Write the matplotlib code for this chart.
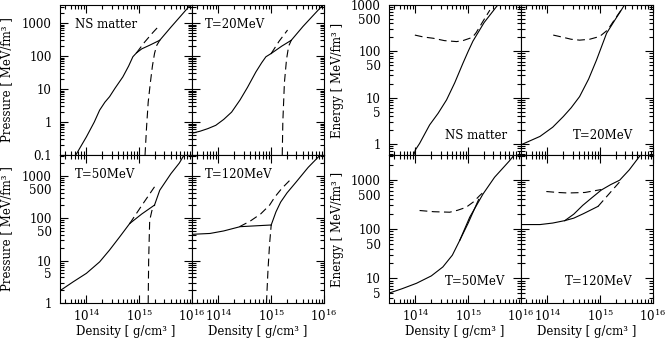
import numpy as np
import matplotlib
matplotlib.use("Agg")
import matplotlib.pyplot as plt
from matplotlib.ticker import LogLocator, FuncFormatter, NullFormatter

plt.rcParams['font.family'] = ['DejaVu Serif']
plt.rcParams['mathtext.fontset'] = 'dejavuserif'
plt.rcParams['font.size'] = 8.5

# ---- data (density in g/cm^3, pressure / energy in MeV/fm^3) ----
# pressure, NS matter
ns_p_had_rho = [6.3e13, 1.0e14, 1.41e14, 1.78e14, 2.24e14, 2.75e14, 3.47e14, 4.9e14, 6.31e14, 7.59e14, 8.91e14]
ns_p_had = [0.1, 0.355, 1.0, 2.29, 4.0, 5.89, 10.5, 23.4, 50, 95.5, 126]
ns_p_mix_rho = [8.91e14, 1.12e15, 1.58e15, 2.45e15]
ns_p_mix = [126, 166, 214, 302]
ns_p_qrk_rho = [2.45e15, 4.0e15, 6.3e15, 9.3e15]
ns_p_qrk = [302, 759, 1740, 3550]
ns_p_hdash_rho = [8.91e14, 1.26e15, 1.78e15, 2.45e15]
ns_p_hdash = [126, 263, 501, 871]
ns_p_qdash_rho = [1.29e15, 1.38e15, 1.48e15, 1.62e15, 1.78e15, 1.95e15, 2.14e15, 2.45e15]
ns_p_qdash = [0.1, 0.72, 3.98, 14.8, 50, 120, 209, 302]

# pressure, T=20MeV
t20_p_had_rho = [3.16e13, 4.47e13, 6.31e13, 8.91e13, 1.26e14, 1.78e14, 2.57e14, 3.55e14, 5.13e14, 6.61e14, 7.94e14, 1.0e15]
t20_p_had = [0.457, 0.525, 0.631, 0.794, 1.2, 2.0, 4.68, 11.2, 33.1, 63.1, 95.5, 120]
t20_p_mix_rho = [1.0e15, 1.58e15, 2.4e15]
t20_p_mix = [120, 200, 302]
t20_p_qrk_rho = [2.4e15, 4.0e15, 6.3e15, 9.55e15]
t20_p_qrk = [302, 794, 1740, 3550]
t20_p_hdash_rho = [1.0e15, 1.41e15, 2.04e15]
t20_p_hdash = [120, 282, 617]
t20_p_qdash_rho = [1.62e15, 1.66e15, 1.78e15, 1.95e15, 2.14e15, 2.4e15]
t20_p_qdash = [0.1, 1.0, 15.8, 79.4, 200, 302]

# pressure, T=50MeV
t50_p_had_rho = [3.16e13, 5.62e13, 1.0e14, 1.78e14, 2.75e14, 4.27e14, 6.61e14]
t50_p_had = [1.95, 3.16, 5.01, 9.33, 17.8, 36.3, 75]
t50_p_mix_rho = [6.61e14, 1.12e15, 1.95e15]
t50_p_mix = [75, 126, 204]
t50_p_qrk_rho = [1.95e15, 2.45e15, 3.98e15, 5.75e15, 7.08e15]
t50_p_qrk = [204, 457, 1120, 2000, 3100]
t50_p_hdash_rho = [6.61e14, 1.12e15, 1.95e15]
t50_p_hdash = [75, 200, 550]
t50_p_qdash_rho = [1.48e15, 1.51e15, 1.58e15, 1.74e15, 1.95e15]
t50_p_qdash = [1.0, 10, 89, 151, 204]

# pressure, T=120MeV
t120_p_had_rho = [3.16e13, 6.92e13, 1.26e14, 2.57e14, 5.01e14, 1.0e15]
t120_p_had = [41.7, 43.7, 50.1, 63.1, 66.1, 69.2]
t120_p_qrk_rho = [1.0e15, 1.23e15, 1.51e15, 2.0e15, 2.95e15, 5.01e15, 8.32e15]
t120_p_qrk = [69.2, 141, 240, 398, 708, 1580, 3020]
t120_p_hdash_rho = [2.51e14, 3.98e14, 6.31e14, 9.33e14, 1.17e15, 1.58e15, 2.4e15]
t120_p_hdash = [63.1, 85.1, 126, 204, 316, 501, 851]
t120_p_qdash_rho = [8.13e14, 8.71e14, 9.33e14, 1.0e15]
t120_p_qdash = [1.0, 6.31, 25.1, 69.2]

# energy, NS matter
ns_e_rho = [9.33e13, 1.0e14, 1.2e14, 1.86e14, 2.69e14, 3.89e14, 5.56e14, 7.94e14, 1.0e15, 1.23e15, 2.0e15, 3.63e15]
ns_e = [0.575, 0.741, 1.02, 2.57, 4.57, 8.91, 20.9, 55, 100, 166, 417, 1000]
ns_e_dash_rho = [9.77e13, 1.41e14, 2.19e14, 3.55e14, 6.03e14, 7.94e14, 1.0e15, 1.2e15, 1.41e15, 1.91e15, 2.57e15]
ns_e_dash = [224, 204, 191, 170, 162, 170, 186, 200, 251, 447, 776]

# energy, T=20MeV
t20_e_rho = [3.16e13, 7.24e13, 1.26e14, 2.0e14, 2.82e14, 4.07e14, 6.03e14, 8.51e14, 1.32e15, 1.91e15, 2.51e15, 2.88e15]
t20_e = [0.955, 1.45, 2.29, 3.89, 6.03, 10.5, 25.1, 64.6, 245, 479, 776, 1000]
t20_e_dash_rho = [1.29e14, 2.0e14, 2.82e14, 4.07e14, 6.31e14, 9.77e14, 1.38e15, 1.91e15, 2.63e15]
t20_e_dash = [224, 200, 182, 174, 182, 209, 288, 501, 851]

# energy, T=50MeV
t50_e_rho = [3.16e13, 5.62e13, 1.05e14, 2.0e14, 3.31e14, 5.01e14, 6.92e14, 1.07e15, 1.91e15, 3.16e15, 6.03e15, 7.41e15]
t50_e = [5.01, 6.17, 7.94, 11.2, 17.0, 29.5, 58.9, 174, 513, 1120, 2400, 3160]
t50_e_mix_rho = [6.92e14, 1.0e15, 1.58e15]
t50_e_mix = [58.9, 132, 398]
t50_e_dash_rho = [1.2e14, 2.24e14, 4.47e14, 6.31e14, 9.12e14, 1.26e15, 1.66e15, 2.0e15]
t50_e_dash = [237, 224, 219, 240, 275, 355, 479, 575]

# energy, T=120MeV
t120_e_rho = [3.16e13, 7.24e13, 1.26e14, 2.14e14]
t120_e = [123, 123, 132, 148]
t120_e_up_rho = [2.14e14, 3.16e14, 4.68e14, 7.08e14, 1.05e15, 1.58e15, 2.34e15, 3.55e15, 5.62e15]
t120_e_up = [148, 200, 302, 437, 617, 794, 977, 1580, 3020]
t120_e_low_rho = [2.14e14, 3.16e14, 4.79e14, 9.12e14]
t120_e_low = [148, 166, 204, 288]
t120_e_lowdash_rho = [9.12e14, 1.58e15, 2.45e15]
t120_e_lowdash = [288, 562, 955]
t120_e_dash_rho = [9.55e13, 1.58e14, 2.45e14, 5.13e14, 1.05e15]
t120_e_dash = [575, 550, 537, 550, 631]

# ---- figure ----
W, H = 667, 342
fig = plt.figure(figsize=(W / 100, H / 100), dpi=100)


def make_ax(left, top, w, h):
    return fig.add_axes([left / W, 1 - (top + h) / H, w / W, h / H])


def y_major_fmt(v, pos):
    return f'{v:g}'


def y_minor_fmt(v, pos):
    d = 10 ** np.floor(np.log10(v) + 1e-9)
    return f'{v:g}' if abs(v / d - 5) < 0.01 else ''


def style(ax, ylim, xlabels, ylabels, minor_labels):
    ax.set_xscale('log')
    ax.set_yscale('log')
    ax.set_xlim(10 ** 13.5, 1e16)
    ax.set_ylim(*ylim)
    ax.xaxis.set_major_locator(LogLocator(base=10, numticks=100))
    ax.xaxis.set_minor_locator(LogLocator(base=10, subs=np.arange(2, 10), numticks=100))
    ax.yaxis.set_major_locator(LogLocator(base=10, numticks=100))
    ax.yaxis.set_minor_locator(LogLocator(base=10, subs=np.arange(2, 10), numticks=100))
    if xlabels:
        ax.xaxis.set_major_formatter(FuncFormatter(lambda v, p: r'$10^{%d}$' % round(np.log10(v))))
    else:
        ax.xaxis.set_major_formatter(NullFormatter())
    ax.xaxis.set_minor_formatter(NullFormatter())
    if ylabels:
        ax.yaxis.set_major_formatter(FuncFormatter(y_major_fmt))
        ax.yaxis.set_minor_formatter(FuncFormatter(y_minor_fmt) if minor_labels else NullFormatter())
    else:
        ax.yaxis.set_major_formatter(NullFormatter())
        ax.yaxis.set_minor_formatter(NullFormatter())
    ax.tick_params(which='both', direction='in', top=True, right=True, width=0.8, colors='black')
    ax.tick_params(which='major', length=5.5)
    ax.tick_params(which='minor', length=3)
    ax.tick_params(axis='x', which='both', pad=4)
    ax.tick_params(axis='y', which='both', pad=6)
    for s in ax.spines.values():
        s.set_linewidth(0.8)


LW = 0.8
DASH = (0, (7, 4))


def solid(ax, x, y):
    ax.plot(x, y, color='black', lw=LW)


def dashed(ax, x, y):
    ax.plot(x, y, color='black', lw=LW, linestyle=DASH)


lefts = [60, 192, 389, 521]
pw, ph_top, ph_bot = 132, 150, 148

ylim_p_top = (0.1, 10 ** 3.55)
ylim_p_bot = (1, 3100)
ylim_e_top = (0.575, 1000)
ylim_e_bot = (10 ** 0.5, 10 ** 3.5)

# pressure NS matter
ax = make_ax(lefts[0], 5, pw, ph_top)
style(ax, ylim_p_top, False, True, False)
solid(ax, ns_p_had_rho, ns_p_had)
solid(ax, ns_p_mix_rho, ns_p_mix)
solid(ax, ns_p_qrk_rho, ns_p_qrk)
dashed(ax, ns_p_hdash_rho, ns_p_hdash)
dashed(ax, ns_p_qdash_rho, ns_p_qdash)
ax.text(0.114, 0.867, 'NS matter', transform=ax.transAxes, va='center', ha='left')

# pressure T=20
ax = make_ax(lefts[1], 5, pw, ph_top)
style(ax, ylim_p_top, False, False, False)
solid(ax, t20_p_had_rho, t20_p_had)
solid(ax, t20_p_mix_rho, t20_p_mix)
solid(ax, t20_p_qrk_rho, t20_p_qrk)
dashed(ax, t20_p_hdash_rho, t20_p_hdash)
dashed(ax, t20_p_qdash_rho, t20_p_qdash)
ax.text(0.10, 0.867, 'T=20MeV', transform=ax.transAxes, va='center', ha='left')

# pressure T=50
ax = make_ax(lefts[0], 155, pw, ph_bot)
style(ax, ylim_p_bot, True, True, True)
solid(ax, t50_p_had_rho, t50_p_had)
solid(ax, t50_p_mix_rho, t50_p_mix)
solid(ax, t50_p_qrk_rho, t50_p_qrk)
dashed(ax, t50_p_hdash_rho, t50_p_hdash)
dashed(ax, t50_p_qdash_rho, t50_p_qdash)
ax.text(0.114, 0.865, 'T=50MeV', transform=ax.transAxes, va='center', ha='left')

# pressure T=120
ax = make_ax(lefts[1], 155, pw, ph_bot)
style(ax, ylim_p_bot, True, False, False)
solid(ax, t120_p_had_rho, t120_p_had)
solid(ax, t120_p_qrk_rho, t120_p_qrk)
dashed(ax, t120_p_hdash_rho, t120_p_hdash)
dashed(ax, t120_p_qdash_rho, t120_p_qdash)
ax.text(0.098, 0.865, 'T=120MeV', transform=ax.transAxes, va='center', ha='left')

# energy NS matter
ax = make_ax(lefts[2], 5, pw, ph_top)
style(ax, ylim_e_top, False, True, True)
solid(ax, ns_e_rho, ns_e)
dashed(ax, ns_e_dash_rho, ns_e_dash)
ax.text(0.424, 0.133, 'NS matter', transform=ax.transAxes, va='center', ha='left')

# energy T=20
ax = make_ax(lefts[3], 5, pw, ph_top)
style(ax, ylim_e_top, False, False, False)
solid(ax, t20_e_rho, t20_e)
dashed(ax, t20_e_dash_rho, t20_e_dash)
ax.text(0.394, 0.133, 'T=20MeV', transform=ax.transAxes, va='center', ha='left')

# energy T=50
ax = make_ax(lefts[2], 155, pw, ph_bot)
style(ax, ylim_e_bot, True, True, True)
solid(ax, t50_e_rho, t50_e)
solid(ax, t50_e_mix_rho, t50_e_mix)
dashed(ax, t50_e_dash_rho, t50_e_dash)
ax.text(0.424, 0.144, 'T=50MeV', transform=ax.transAxes, va='center', ha='left')

# energy T=120
ax = make_ax(lefts[3], 155, pw, ph_bot)
style(ax, ylim_e_bot, True, False, False)
solid(ax, t120_e_rho, t120_e)
solid(ax, t120_e_up_rho, t120_e_up)
solid(ax, t120_e_low_rho, t120_e_low)
dashed(ax, t120_e_lowdash_rho, t120_e_lowdash)
dashed(ax, t120_e_dash_rho, t120_e_dash)
ax.text(0.333, 0.144, 'T=120MeV', transform=ax.transAxes, va='center', ha='left')

# axis titles
for yc in (80, 229):
    fig.text(7 / W, 1 - yc / H, 'Pressure [ MeV/fm³ ]', rotation=90, ha='center', va='center')
    fig.text(337 / W, 1 - yc / H, 'Energy [ MeV/fm³ ]', rotation=90, ha='center', va='center')
for l in lefts:
    fig.text((l + pw / 2) / W, 1 - 332 / H, 'Density [ g/cm³ ]', ha='center', va='center')

fig.savefig('out.png', dpi=100)
